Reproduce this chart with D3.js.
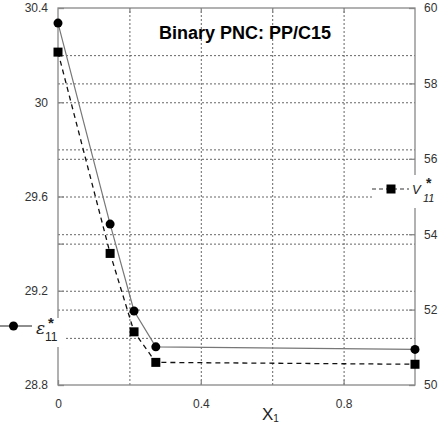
<!DOCTYPE html>
<html>
<head>
<meta charset="utf-8">
<script src="https://cdn.jsdelivr.net/npm/d3@7"></script>
<style>
  body { margin: 0; background: #fff; }
  svg { display: block; font-family: "Liberation Sans", Arial, sans-serif; }
  .tick text { fill: #333; font-size: 12px; }
</style>
</head>
<body>
<div id="chart"></div>
<script>
// mole fraction X1 and the two measured series
const xVals = [0, 0.146, 0.213, 0.274, 1];
const epsVals = [30.336, 29.483, 29.114, 28.962, 28.951];
const vVals = [58.83, 53.49, 51.41, 50.60, 50.55];

const xTicks = [0, 0.4, 0.8];
const leftTicks = [28.8, 29.2, 29.6, 30, 30.4];
const rightTicks = [50, 52, 54, 56, 58, 60];
const xGrid = [0.2, 0.4, 0.6, 0.8];
const leftGrid = [29.0, 29.2, 29.4, 29.6, 29.8, 30.0, 30.2];
const rightGrid = [52, 54, 56, 58];

const W = 444, H = 425;
const margin = {left: 58, top: 8, right: 29, bottom: 40};
const width = W - margin.left - margin.right;
const height = H - margin.top - margin.bottom;

const svg = d3.select("#chart").append("svg")
  .attr("width", W).attr("height", H);

const g = svg.append("g")
  .attr("transform", `translate(${margin.left},${margin.top})`);

const x = d3.scaleLinear().domain([0, 1]).range([0, width]);
const yL = d3.scaleLinear().domain([28.8, 30.4]).range([height, 0]);
const yR = d3.scaleLinear().domain([50, 60]).range([height, 0]);

// dotted grid
const gridStyle = sel => {
  sel.select(".domain").remove();
  sel.selectAll(".tick line")
    .attr("stroke", "#555").attr("stroke-width", 0.9)
    .attr("stroke-dasharray", "2,2");
};
g.append("g").attr("transform", `translate(0,${height})`)
  .call(d3.axisBottom(x).tickValues(xGrid).tickSize(-height).tickFormat(""))
  .call(gridStyle);
g.append("g")
  .call(d3.axisLeft(yL).tickValues(leftGrid).tickSize(-width).tickFormat(""))
  .call(gridStyle);
g.append("g")
  .call(d3.axisLeft(yR).tickValues(rightGrid).tickSize(-width).tickFormat(""))
  .call(gridStyle);

// frame
g.append("rect")
  .attr("width", width).attr("height", height)
  .attr("fill", "none").attr("stroke", "#888").attr("stroke-width", 1.3);

const axisStyle = sel => {
  sel.select(".domain").remove();
  sel.selectAll(".tick line").attr("stroke", "#888").attr("stroke-width", 1.3);
};
g.append("g").attr("transform", `translate(0,${height})`)
  .call(d3.axisBottom(x).tickValues(xTicks).tickSizeInner(-5).tickSizeOuter(0)
    .tickPadding(14).tickFormat(d3.format("")))
  .call(axisStyle);
g.append("g")
  .call(d3.axisTop(x).tickValues(xGrid).tickSizeInner(-5).tickSizeOuter(0).tickFormat(""))
  .call(axisStyle);
g.append("g")
  .call(d3.axisLeft(yL).tickValues(leftTicks.concat([29.4])).tickSizeInner(-6).tickSizeOuter(0)
    .tickPadding(10).tickFormat(d => leftTicks.includes(d) ? d3.format("")(d) : ""))
  .call(axisStyle);
g.append("g").attr("transform", `translate(${width},0)`)
  .call(d3.axisRight(yR).tickValues(rightTicks).tickSizeInner(-6).tickSizeOuter(0)
    .tickPadding(9))
  .call(axisStyle);

// lines
const epsData = xVals.map((d, i) => [d, epsVals[i]]);
const vData = xVals.map((d, i) => [d, vVals[i]]);

g.append("path").datum(epsData)
  .attr("fill", "none").attr("stroke", "#777").attr("stroke-width", 1.2)
  .attr("d", d3.line().x(d => x(d[0])).y(d => yL(d[1])));
g.append("path").datum(vData)
  .attr("fill", "none").attr("stroke", "#111").attr("stroke-width", 1.3)
  .attr("stroke-dasharray", "5,4")
  .attr("d", d3.line().x(d => x(d[0])).y(d => yR(d[1])));

g.selectAll(".eps").data(epsData).join("circle")
  .attr("cx", d => x(d[0])).attr("cy", d => yL(d[1])).attr("r", 4.5)
  .attr("fill", "#000");
const sq = 9;
g.selectAll(".vsq").data(vData).join("rect")
  .attr("x", d => x(d[0]) - sq / 2).attr("y", d => yR(d[1]) - sq / 2)
  .attr("width", sq).attr("height", sq).attr("fill", "#000");

// title
svg.append("text")
  .attr("x", 245).attr("y", 39).attr("text-anchor", "middle")
  .attr("font-size", 18).attr("font-weight", "bold").attr("fill", "#000")
  .text("Binary PNC: PP/C15");

// x axis title
const xt = svg.append("text")
  .attr("x", 262).attr("y", 420).attr("font-size", 17).attr("fill", "#222");
xt.append("tspan").text("X");
xt.append("tspan").attr("font-size", 10).attr("dy", 2).text("1");

// left legend (epsilon)
svg.append("rect").attr("x", 0).attr("y", 318).attr("width", 66).attr("height", 29)
  .attr("fill", "#fff");
svg.append("line").attr("x1", 0).attr("x2", 32).attr("y1", 326).attr("y2", 326)
  .attr("stroke", "#444").attr("stroke-width", 1.2);
svg.append("circle").attr("cx", 13.5).attr("cy", 326).attr("r", 4.5).attr("fill", "#000");
svg.append("text").attr("x", 36).attr("y", 334)
  .attr("font-family", "'DejaVu Serif', serif").attr("font-style", "italic")
  .attr("font-size", 17).attr("fill", "#222").text("ε");
svg.append("text").attr("x", 48).attr("y", 328)
  .attr("font-size", 15).attr("font-weight", "bold").attr("fill", "#222").text("*");
svg.append("text").attr("x", 45).attr("y", 341)
  .attr("font-size", 12).attr("fill", "#222").text("11");

// right legend (V)
svg.append("rect").attr("x", 372).attr("y", 175).attr("width", 72).attr("height", 33)
  .attr("fill", "#fff");
svg.append("line").attr("x1", 372).attr("x2", 409).attr("y1", 189).attr("y2", 189)
  .attr("stroke", "#333").attr("stroke-width", 1.2).attr("stroke-dasharray", "4,3");
svg.append("rect").attr("x", 391 - sq / 2).attr("y", 189 - sq / 2)
  .attr("width", sq).attr("height", sq).attr("fill", "#000");
svg.append("text").attr("x", 412).attr("y", 194)
  .attr("font-style", "italic").attr("font-size", 13).attr("fill", "#222").text("V");
svg.append("text").attr("x", 426).attr("y", 188)
  .attr("font-size", 14).attr("font-weight", "bold").attr("fill", "#222").text("*");
svg.append("text").attr("x", 423).attr("y", 202)
  .attr("font-style", "italic").attr("font-size", 11).attr("fill", "#222").text("11");
</script>
</body>
</html>
